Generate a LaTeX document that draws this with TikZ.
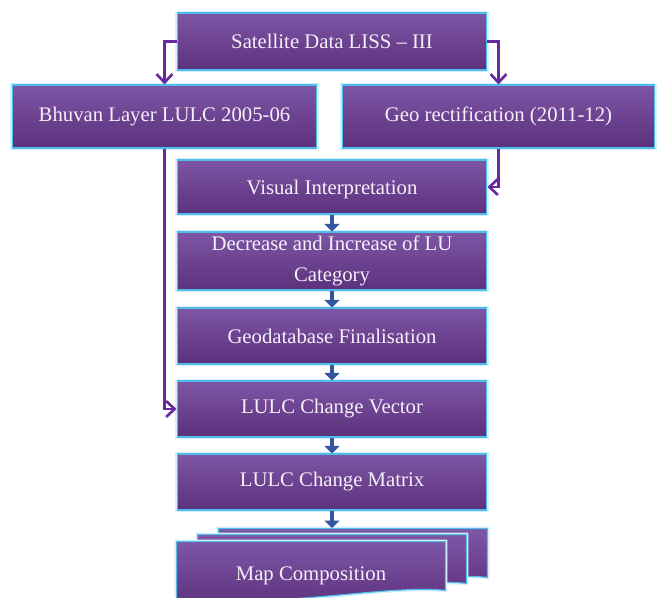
\documentclass[tikz,border=0pt]{standalone}
\usepackage{fontspec}
\setmainfont{Liberation Serif}
\usepackage{xcolor}
\definecolor{flowtop}{RGB}{126,86,166}
\definecolor{flowbot}{RGB}{92,48,124}
\definecolor{flowedge}{RGB}{80,190,235}
\definecolor{flowtext}{RGB}{244,240,248}
\definecolor{linkpurple}{RGB}{104,40,158}
\definecolor{linkblue}{RGB}{52,86,160}
\usetikzlibrary{arrows.meta,positioning,backgrounds}
\tikzset{
  flow box/.style={rectangle, top color=flowtop, bottom color=flowbot, draw=flowedge, line width=0.6pt, preaction={draw=flowedge!25, line width=2.2pt}, text=flowtext, align=center, font=\fontsize{11.8}{16}\selectfont, minimum width=6.2cm, minimum height=1.12cm},
  flow layer/.style={top color=flowtop, bottom color=flowbot, draw=flowedge, line width=0.6pt, preaction={draw=flowedge!25, line width=2.2pt}},
  flow text/.style={text=flowtext, align=center, font=\fontsize{11.8}{16}\selectfont, minimum width=5.36cm, minimum height=1.12cm},
  side link/.style={-{Straight Barb[length=1.7mm,width=3.2mm]}, linkpurple, line width=1.5pt},
  down link/.style={-{Triangle[length=1.5mm,width=3mm]}, linkblue, line width=2pt},
}

\begin{document}
\begin{tikzpicture}[x=0.02cm, y=-0.02cm]
  \useasboundingbox (0,0) rectangle (660,598);
  % boxes
  \node[flow box, minimum height=1.14cm] (sat) at (332,41.5) {Satellite Data LISS -- III};
  \node[flow box, minimum width=6.1cm, minimum height=1.26cm] (bhuvan) at (164.5,116.5) {Bhuvan Layer LULC 2005-06};
  \node[flow box, minimum width=6.26cm, minimum height=1.26cm] (georect) at (498.5,116.5) {Geo rectification (2011-12)};
  \node[flow box, minimum height=1.08cm, text height=11.6pt, text depth=2.7pt] (visual) at (332,187) {Visual Interpretation};
  \node[flow box, minimum height=1.16cm, inner ysep=1pt] (change) at (332,261) {Decrease and Increase of LU\\[1.5pt]Category};
  \node[flow box] (geodb) at (332,336) {Geodatabase Finalisation};
  \node[flow box] (vector) at (332,409) {LULC Change Vector};
  \node[flow box] (matrix) at (332,482) {LULC Change Matrix};
  \node[flow text, text height=15pt, text depth=2.7pt] (map) at (311,570) {Map Composition};
  \coordinate (map stack) at (332,528);
  % stacked document layers
  \begin{scope}[on background layer]
    \foreach \dx/\dy in {42/-13, 21/-7, 0/0}
      \path[flow layer] ([shift={(\dx,\dy)}]map.north west) -- ([shift={(\dx,\dy)}]map.north east)
        -- ([shift={(\dx,\dy-8)}]map.south east)
        .. controls +(-60,-6) and +(110,10) .. ([shift={(\dx,\dy)}]map.south west) -- cycle;
  \end{scope}
  % connectors
  \draw[side link] (sat.west) -| (bhuvan.north);
  \draw[side link] (sat.east) -| (georect.north);
  \draw[side link] (bhuvan.south) |- (vector.west);
  \draw[side link] (georect.south) |- (visual.east);
  \draw[down link] (visual) -- (change);
  \draw[down link] (change) -- (geodb);
  \draw[down link] (geodb) -- (vector);
  \draw[down link] (vector) -- (matrix);
  \draw[down link] (matrix) -- (map stack);
\end{tikzpicture}
\end{document}
